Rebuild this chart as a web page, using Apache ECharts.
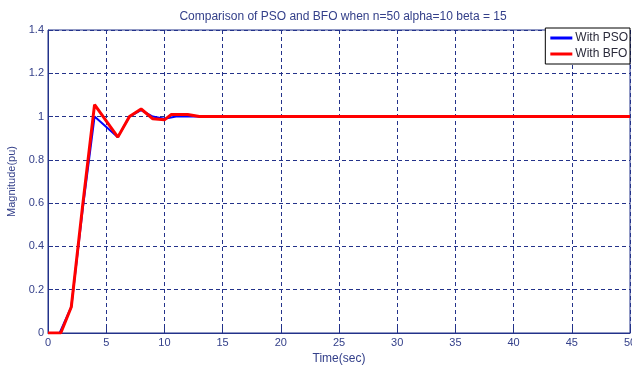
<!DOCTYPE html>
<html><head><meta charset="utf-8">
<script src="https://cdn.jsdelivr.net/npm/echarts@6/dist/echarts.min.js"></script>
<style>html,body{margin:0;padding:0;background:#fff}#c{width:632px;height:365px}</style>
</head><body><div id="c"></div>
<script>
const titleText = 'Comparison of PSO and BFO when n=50 alpha=10 beta = 15';
const xName = 'Time(sec)';
const yName = 'Magnitude(pu)';
const seriesNames = ['With PSO', 'With BFO'];
const timePSO = [0, 1, 2, 3, 4, 6, 7, 8, 9, 10, 11, 12, 13, 50];
const valPSO  = [0, 0, 0.12, 0.58, 1.0, 0.905, 1.0, 1.03, 1.0, 0.99, 1.0, 1.0, 1.0, 1.0];
const timeBFO = [0, 1.1, 2, 3, 4, 6, 7, 8, 9, 10, 10.6, 12, 13, 50];
const valBFO  = [0, 0, 0.12, 0.6, 1.055, 0.905, 1.0, 1.035, 0.99, 0.985, 1.01, 1.01, 1.0, 1.0];

const FONT = "'Liberation Sans',Arial,sans-serif";
const TXT = '#34408a';
const AX = '#23328a';
const chart = echarts.init(document.getElementById('c'), null, {renderer: 'canvas'});
const zip = (t, v) => t.map((x, i) => [x, v[i]]);
chart.setOption({
  animation: false,
  backgroundColor: '#fff',
  title: {text: titleText, left: 338, top: 6, textAlign: 'center',
    textStyle: {fontFamily: FONT, fontSize: 12, fontWeight: 'normal', color: TXT}},
  grid: {left: 48, right: 2, top: 30, bottom: 32, show: true, borderColor: AX, borderWidth: 1,
    outerBoundsMode: 'none', containLabel: false},
  legend: {orient: 'vertical', right: 2, top: 28, itemWidth: 22, itemHeight: 3, itemGap: 4,
    icon: 'rect', backgroundColor: '#fff', borderColor: '#000', borderWidth: 1,
    padding: [4, 2, 4, 5],
    textStyle: {fontFamily: FONT, fontSize: 12, color: '#2a2a3a', padding: [0,0,0,-2]},
    data: seriesNames},
  xAxis: {type: 'value', min: 0, max: 50, interval: 5, name: xName, nameLocation: 'middle', nameGap: 17,
    nameTextStyle: {fontFamily: FONT, fontSize: 12, color: TXT},
    axisLine: {lineStyle: {color: AX}}, axisTick: {inside: true, length: 5, lineStyle: {color: AX}},
    axisLabel: {fontFamily: FONT, fontSize: 11, color: TXT, margin: 4},
    splitLine: {show: true, lineStyle: {color: AX, type: [4, 3], width: 1}}},
  yAxis: {type: 'value', min: 0, max: 1.4, interval: 0.2, name: yName, nameLocation: 'middle', nameGap: 24,
    nameTextStyle: {fontFamily: FONT, fontSize: 11, color: TXT},
    axisLine: {lineStyle: {color: AX}}, axisTick: {inside: true, length: 5, lineStyle: {color: AX}},
    axisLabel: {fontFamily: FONT, fontSize: 11, color: TXT, margin: 4,
      formatter: v => (Math.round(v * 10) / 10).toString()},
    splitLine: {show: true, lineStyle: {color: AX, type: [4, 3], width: 1}}},
  series: [
    {name: seriesNames[0], type: 'line', data: zip(timePSO, valPSO), showSymbol: false,
      lineStyle: {color: '#0000ff', width: 2}, itemStyle: {color: '#0000ff'}, z: 2},
    {name: seriesNames[1], type: 'line', data: zip(timeBFO, valBFO), showSymbol: false,
      lineStyle: {color: '#ff0000', width: 3}, itemStyle: {color: '#ff0000'}, z: 3}
  ]
});
</script></body></html>
